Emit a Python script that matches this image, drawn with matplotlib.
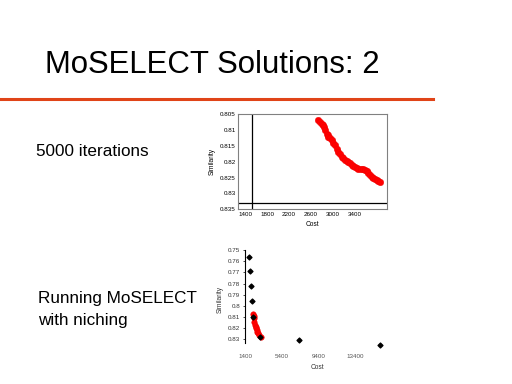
import matplotlib
matplotlib.use("Agg")
import matplotlib.pyplot as plt
from matplotlib.lines import Line2D

plt.rcParams['font.family'] = ['Liberation Sans', 'DejaVu Sans']

# ---- data: plot 1 (5000 iterations) ----
cost1 = [2733, 2760, 2795, 2815, 2836, 2860, 2885, 2900, 2915, 2945, 2976, 3005, 3036,
         3066, 3096, 3128, 3158, 3190, 3218, 3250, 3278, 3310, 3340, 3370, 3400, 3430,
         3460, 3505, 3551, 3585, 3613, 3645, 3673, 3705, 3733, 3765, 3795, 3825, 3855]
sim1 = [0.8070, 0.8074, 0.8080, 0.8085, 0.8091, 0.8101, 0.8112, 0.8117, 0.8122, 0.8127,
        0.8132, 0.8140, 0.8148, 0.8160, 0.8169, 0.8177, 0.8184, 0.8190, 0.8195, 0.8198,
        0.8200, 0.8205, 0.8210, 0.8213, 0.8216, 0.8220, 0.8223, 0.8222, 0.8223, 0.8227,
        0.8231, 0.8237, 0.8242, 0.8247, 0.8252, 0.8254, 0.8257, 0.8261, 0.8265]
xticks1 = [1400, 1800, 2200, 2600, 3000, 3400]
yticks1 = [0.805, 0.81, 0.815, 0.82, 0.825, 0.83, 0.835]
yticklabels1 = ["0.805", "0.81", "0.815", "0.82", "0.825", "0.83", "0.835"]

# ---- data: plot 2 (with niching) ----
cost2_red = [2305, 2340, 2381, 2430, 2490, 2545, 2599, 2675, 2762, 2850, 2980, 3111]
sim2_red = [0.8073, 0.8090, 0.8109, 0.8140, 0.8171, 0.8185, 0.8198, 0.8216, 0.8234,
            0.8246, 0.8261, 0.8276]
cost2_black = [1803, 1912, 2021, 2130, 2305, 3068, 7286, 16115]
sim2_black = [0.7565, 0.7685, 0.7825, 0.7957, 0.8103, 0.8279, 0.8303, 0.8350]
xticks2 = [1400, 5400, 9400, 13400]
yticks2 = [0.75, 0.76, 0.77, 0.78, 0.79, 0.8, 0.81, 0.82, 0.83]
yticklabels2 = ["0.75", "0.76", "0.77", "0.78", "0.79", "0.8", "0.81", "0.82", "0.83"]

W, H = 512, 384
fig = plt.figure(figsize=(5.12, 3.84), dpi=100)
fig.patch.set_facecolor('white')

# title and rule
fig.text(45 / W, 1 - 65 / H, "MoSELECT Solutions: 2", fontsize=22.4, va='center', ha='left',
         color='black')
fig.add_artist(Line2D([0, 433 / W], [1 - 99 / H, 1 - 99 / H], color='#e04418', lw=2.2,
                      transform=fig.transFigure))

fig.text(36 / W, 1 - 152 / H, "5000 iterations", fontsize=12.3, va='center', ha='left')
fig.text(38 / W, 1 - 299 / H, "Running MoSELECT", fontsize=12.3, va='center', ha='left')
fig.text(38 / W, 1 - 321 / H, "with niching", fontsize=12.3, va='center', ha='left')

# ---- plot 1 ----
l1, r1, t1, b1 = 238.3, 386.7, 114, 209.3
ax1 = fig.add_axes([l1 / W, 1 - b1 / H, (r1 - l1) / W, (b1 - t1) / H])
ax1.scatter(cost1, sim1, s=22, color='#ff0000', edgecolors='#ee0000', linewidths=0.3, zorder=3)
ax1.set_xlim(1278, 3976)
ax1.set_ylim(0.8348, 0.805)
ax1.axvline(1522, color='black', lw=0.9)
ax1.axhline(0.833, color='black', lw=0.9)
for sp in ax1.spines.values():
    sp.set_color('#808080')
    sp.set_linewidth(0.8)
ax1.set_xticks(xticks1)
ax1.set_xticklabels([str(v) for v in xticks1])
ax1.set_yticks(yticks1)
ax1.set_yticklabels(yticklabels1)
ax1.tick_params(labelsize=4.5, length=0, pad=2)
ax1.set_xlabel("Cost", fontsize=4.8, labelpad=3)
ax1.set_ylabel("Similarity", fontsize=4.8, labelpad=3)

# ---- plot 2 ----
l2, r2, t2, b2 = 245, 390, 250, 348
ax2 = fig.add_axes([l2 / W, 1 - b2 / H, (r2 - l2) / W, (b2 - t2) / H])
ax2.set_xlim(1400, 17205)
ax2.set_ylim(0.8377, 0.75)
ax2.scatter(cost2_red, sim2_red, s=16, color='#ff0000', edgecolors='#ee0000',
            linewidths=0.3, zorder=3)
ax2.scatter(cost2_black, sim2_black, s=6, marker='D', color='black', zorder=4)
for k in ['top', 'right', 'bottom']:
    ax2.spines[k].set_visible(False)
ax2.spines['left'].set_color('black')
ax2.spines['left'].set_linewidth(0.8)
ax2.spines['left'].set_bounds(0.75, 0.8333)
ax2.set_xticks(xticks2)
ax2.set_xticklabels([str(v) for v in xticks2], color='#555555')
ax2.set_yticks(yticks2)
ax2.set_yticklabels(yticklabels2, color='#333333')
ax2.tick_params(axis='x', labelsize=4.5, length=0, pad=4)
ax2.tick_params(axis='y', labelsize=4.5, length=1.5, width=0.5, pad=2)
ax2.set_xlabel("Cost", fontsize=4.8, labelpad=4, color='#333333')
ax2.set_ylabel("Similarity", fontsize=4.8, labelpad=3, color='#333333')

fig.savefig("out.png", dpi=100, facecolor='white')
